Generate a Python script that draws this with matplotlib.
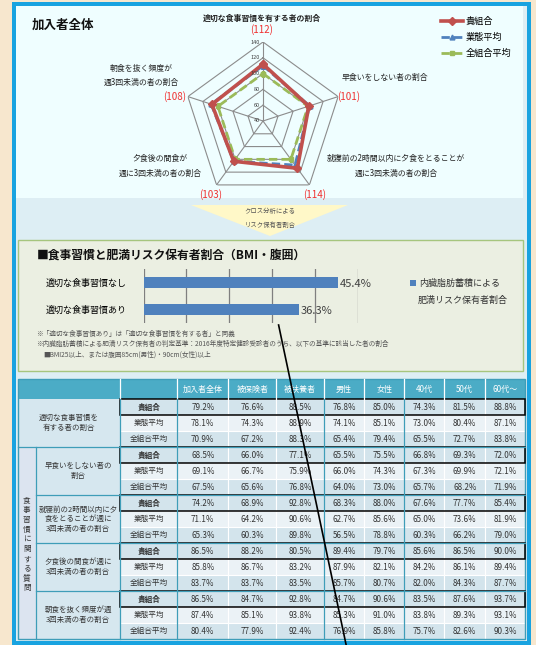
import matplotlib
matplotlib.use('Agg')
import matplotlib.pyplot as plt
import numpy as np
from matplotlib.patches import Rectangle, Polygon
from matplotlib.transforms import offset_copy

plt.rcParams['font.family'] = ['Noto Sans CJK JP', 'DejaVu Sans']

# ---- data ----
series_names = ['貴組合', '業態平均', '全組合平均']
radar_labels = ['適切な食事習慣を有する者の割合',
                '早食いをしない者の割合',
                '就寝前の2時間以内に夕食をとることが\n週に3回未満の者の割合',
                '夕食後の間食が\n週に3回未満の者の割合',
                '朝食を抜く頻度が\n週3回未満の者の割合']
own_idx = [112, 101, 114, 103, 108]        # 貴組合 (全組合平均=100)
industry_idx = [110, 102, 109, 103, 109]   # 業態平均
all_idx = [100, 100, 100, 100, 100]        # 全組合平均
radar_ticks = [40, 60, 80, 100, 120, 140]

bar_labels = ['適切な食事習慣あり', '適切な食事習慣なし']
bar_values = [36.3, 45.4]

col_heads = ['加入者全体', '被保険者', '被扶養者', '男性', '女性', '40代', '50代', '60代～']
block_labels = ['適切な食事習慣を\n有する者の割合',
                '早食いをしない者の\n割合',
                '就寝前の2時間以内に夕\n食をとることが週に\n3回未満の者の割合',
                '夕食後の間食が週に\n3回未満の者の割合',
                '朝食を抜く頻度が週\n3回未満の者の割合']
side_label = '食事習慣に関する質問'
table_vals = [
    [79.2, 76.6, 88.5, 76.8, 85.0, 74.3, 81.5, 88.8],
    [78.1, 74.3, 88.9, 74.1, 85.1, 73.0, 80.4, 87.1],
    [70.9, 67.2, 88.3, 65.4, 79.4, 65.5, 72.7, 83.8],
    [68.5, 66.0, 77.1, 65.5, 75.5, 66.8, 69.3, 72.0],
    [69.1, 66.7, 75.9, 66.0, 74.3, 67.3, 69.9, 72.1],
    [67.5, 65.6, 76.8, 64.0, 73.0, 65.7, 68.2, 71.9],
    [74.2, 68.9, 92.8, 68.3, 88.0, 67.6, 77.7, 85.4],
    [71.1, 64.2, 90.6, 62.7, 85.6, 65.0, 73.6, 81.9],
    [65.3, 60.3, 89.8, 56.5, 78.8, 60.3, 66.2, 79.0],
    [86.5, 88.2, 80.5, 89.4, 79.7, 85.6, 86.5, 90.0],
    [85.8, 86.7, 83.2, 87.9, 82.1, 84.2, 86.1, 89.4],
    [83.7, 83.7, 83.5, 85.7, 80.7, 82.0, 84.3, 87.7],
    [86.5, 84.7, 92.8, 84.7, 90.6, 83.5, 87.6, 93.7],
    [87.4, 85.1, 93.8, 85.3, 91.0, 83.8, 89.3, 93.1],
    [80.4, 77.9, 92.4, 76.9, 85.8, 75.7, 82.6, 90.3],
]

RED, BLUE, GREEN = '#C0504D', '#4F81BD', '#9BBB59'
W, H = 536, 645

def pt(px):
    return px * 0.72

fig = plt.figure(figsize=(W / 100, H / 100), dpi=100, facecolor='#F7E7CE')
bg = fig.add_axes([0, 0, 1, 1])
bg.set_xlim(0, W)
bg.set_ylim(H, 0)
bg.axis('off')

# panels
bg.add_patch(Rectangle((14, 3.5), 515, 639, facecolor='#DDEEF4', edgecolor='#19A3E0', lw=pt(4)))
bg.add_patch(Rectangle((16, 5.5), 507, 192.5, facecolor='#EFFEFF', edgecolor='none'))
bg.add_patch(Polygon([(191, 205), (348, 205), (270, 236)], facecolor='#FFF8C8', edgecolor='none'))
bg.text(270, 211, 'クロス分析による', ha='center', va='center', fontsize=4.6, color='#555555')
bg.text(270, 225, 'リスク保有者割合', ha='center', va='center', fontsize=4.6, color='#555555')
bg.add_patch(Rectangle((18, 240), 505, 131, facecolor='#EBEFE2', edgecolor='#A6C57E', lw=1))

bg.text(32, 25, '加入者全体', ha='left', va='center', fontsize=9, fontweight='bold', color='#111111')

# ---- radar ----
rad = fig.add_axes([184 / W, 1 - 200 / H, 158 / W, 158 / H], projection='polar')
rad.set_theta_offset(np.pi / 2)
rad.set_theta_direction(-1)
rad.set_ylim(40, 140)
rad.grid(False)
rad.spines['polar'].set_visible(False)
rad.set_xticks([])
rad.set_yticks([])
rad.patch.set_alpha(0)

angles = np.linspace(0, 2 * np.pi, len(own_idx), endpoint=False)
ang_c = np.append(angles, angles[0])
for r in radar_ticks[1:]:
    rad.plot(ang_c, [r] * len(ang_c), color='#8C8C8C', lw=0.8)
for a in angles:
    rad.plot([a, a], [radar_ticks[0], radar_ticks[-1]], color='#8C8C8C', lw=0.8)
tick_tr = offset_copy(rad.transData, fig=fig, x=-3, y=0, units='dots')
for r in radar_ticks:
    rad.text(0, r, str(r), transform=tick_tr, ha='right', va='center', fontsize=4, color='#404040')

def closed(v):
    return list(v) + [v[0]]

h_all, = rad.plot(ang_c, closed(all_idx), color=GREEN, lw=2, ls=(0, (3, 1.5)),
                  marker='s', ms=3.5, label=series_names[2])
h_ind, = rad.plot(ang_c, closed(industry_idx), color=BLUE, lw=2, ls=(0, (3, 1.5)),
                  marker='^', ms=3.5, label=series_names[1])
h_own, = rad.plot(ang_c, closed(own_idx), color=RED, lw=2.6, marker='D', ms=4,
                  label=series_names[0])
rad.legend(handles=[h_own, h_ind, h_all], loc='upper left',
           bbox_to_anchor=(436 / W, 1 - 12 / H), bbox_transform=fig.transFigure,
           frameon=False, fontsize=6.6, handlelength=2.4, handletextpad=0.3,
           labelspacing=0.75, borderpad=0)

# radar axis labels (pixel layout)
lab_pos = [(262, 18), (385, 77), (396, 166), (160, 166), (141, 75.5)]
num_pos = [(262, 30), (349, 97), (315, 195), (211, 195), (175, 97)]
for i, lab in enumerate(radar_labels):
    bg.text(lab_pos[i][0], lab_pos[i][1], lab, ha='center', va='center', fontsize=5.7,
            linespacing=1.75, color='#222222', fontweight='bold' if i == 0 else 'normal')
    bg.text(num_pos[i][0], num_pos[i][1], f'({own_idx[i]})', ha='center', va='center',
            fontsize=7, color='#F03030')

# ---- bar chart ----
bg.text(37, 255, '■食事習慣と肥満リスク保有者割合（BMI・腹囲）', ha='left', va='center',
        fontsize=8.5, fontweight='bold', color='#111111')
bar = fig.add_axes([143.6 / W, 1 - 323 / H, 214.4 / W, 54 / H])
bar.patch.set_alpha(0)
ypos = np.arange(len(bar_values))
bar.barh(ypos, bar_values, height=0.38, color=BLUE, zorder=2)
bar.set_xlim(0, 50)
bar.set_ylim(-0.5, 1.5)
bar.set_xticks(range(0, 51, 10))
bar.grid(axis='x', color='#7F7F7F', lw=0.9)
bar.set_axisbelow(True)
for s in bar.spines.values():
    s.set_visible(False)
bar.tick_params(axis='x', length=0, labelbottom=False)
bar.set_yticks(ypos, bar_labels)
bar.tick_params(axis='y', length=0, pad=12, labelsize=6.5)
for y, v in zip(ypos, bar_values):
    bar.text(v + 0.3, y - 0.05, f'{v}%', va='center', ha='left', fontsize=8, color='#404040', zorder=3)

bg.add_patch(Rectangle((410, 280), 5.5, 5.5, facecolor=BLUE, edgecolor='none'))
bg.text(419, 283, '内臓脂肪蓄積による', ha='left', va='center', fontsize=6.5, color='#333333')
bg.text(418, 300, '肥満リスク保有者割合', ha='left', va='center', fontsize=6.5, color='#333333')

notes = ['※「適切な食事習慣あり」は「適切な食事習慣を有する者」と同義',
         '※内臓脂肪蓄積による肥満リスク保有者の判定基準：2016年度特定健診受診者のうち、以下の基準に該当した者の割合',
         '■BMI25以上、または腹囲85cm(男性)・90cm(女性)以上']
for (x, y), n in zip([(36, 333.6), (36, 344), (43, 355)], notes):
    bg.text(x, y, n, ha='left', va='center', fontsize=4.8, color='#555555')

# ---- table ----
col_x = [17.5, 120.3, 177.1, 228.4, 276.2, 324, 364, 404.4, 444.4, 485, 525]
side_x = 36
t_top, head_h, row_h = 379, 20.3, 16
body_top = t_top + head_h
n_rows = len(table_vals)
t_bot = body_top + n_rows * row_h
TEAL, TEAL_LINE = '#4BACC6', '#3E9DB8'
DARK, LIGHT = '#D3E4EC', '#EBF2F6'

bg.add_patch(Rectangle((col_x[0], t_top), col_x[-1] - col_x[0], head_h, facecolor=TEAL, edgecolor='none'))
for j, head in enumerate(col_heads):
    cx = (col_x[j + 2] + col_x[j + 3]) / 2
    bg.text(cx, t_top + head_h / 2, head, ha='center', va='center', fontsize=5.8, color='white')
for x in col_x[1:-1]:
    bg.plot([x, x], [t_top, body_top], color='white', lw=0.9)

for i, row in enumerate(table_vals):
    k = i % 3
    y0 = body_top + i * row_h
    fc = LIGHT if k == 1 else DARK
    bg.add_patch(Rectangle((col_x[1], y0), col_x[2] - col_x[1], row_h, facecolor=fc, edgecolor='white', lw=0.8))
    bg.text((col_x[1] + col_x[2]) / 2, y0 + row_h / 2, series_names[k], ha='center', va='center',
            fontsize=5.5, color='#333333', fontweight='bold' if k == 0 else 'normal')
    for j, v in enumerate(row):
        bg.add_patch(Rectangle((col_x[j + 2], y0), col_x[j + 3] - col_x[j + 2], row_h,
                               facecolor=fc, edgecolor='white', lw=0.8))
        bg.text((col_x[j + 2] + col_x[j + 3]) / 2, y0 + row_h / 2, f'{v:.1f}%', ha='center', va='center',
                fontsize=5.8, color='#333333')

# row label cells
for b, lab in enumerate(block_labels):
    y0 = body_top + b * 3 * row_h
    x0 = col_x[0] if b == 0 else side_x
    bg.add_patch(Rectangle((x0, y0), col_x[1] - x0, 3 * row_h, facecolor='#D6E7EF', edgecolor='none'))
    bg.text((x0 + col_x[1]) / 2, y0 + 1.5 * row_h, lab, ha='center', va='center', fontsize=5.4,
            linespacing=1.3, color='#333333')
side_top = body_top + 3 * row_h
bg.add_patch(Rectangle((col_x[0], side_top), side_x - col_x[0], t_bot - side_top,
                       facecolor='#DCE4F0', edgecolor='none'))
bg.text((col_x[0] + side_x) / 2, (side_top + t_bot) / 2 + 1, '\n'.join(side_label), ha='center', va='center',
        fontsize=5.5, linespacing=1.3, color='#333333')

# grid separators
for b in range(1, 5):
    y = body_top + b * 3 * row_h
    bg.plot([col_x[0] if b == 1 else side_x, col_x[-1]], [y, y], color=TEAL_LINE, lw=0.9)
for x in [side_x, col_x[1], col_x[2], col_x[5], col_x[7]]:
    y_start = side_top if x == side_x else body_top
    bg.plot([x, x], [y_start, t_bot], color=TEAL_LINE, lw=0.9)
bg.add_patch(Rectangle((col_x[0], t_top), col_x[-1] - col_x[0], t_bot - t_top, fill=False,
                       edgecolor=TEAL_LINE, lw=1))
for b in range(5):
    y0 = body_top + b * 3 * row_h
    bg.add_patch(Rectangle((col_x[1], y0), col_x[-1] - col_x[1], row_h, fill=False, edgecolor='black', lw=1.1))

# stray annotation line crossing the sheet
bg.plot([278.6, 347], [325, 649], color='black', lw=1.2, zorder=10)

fig.savefig('out.png', dpi=100, facecolor=fig.get_facecolor())
